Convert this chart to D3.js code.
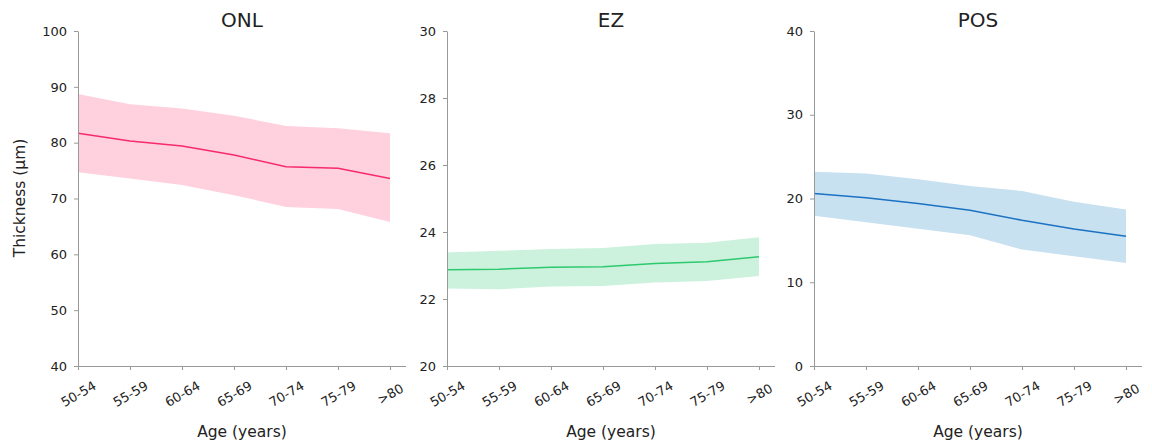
<!DOCTYPE html>
<html>
<head>
<meta charset="utf-8">
<script src="https://cdn.jsdelivr.net/npm/d3@7"></script>
<style>
  body { margin: 0; background: #fff; }
  svg text { font-family: "DejaVu Sans", sans-serif; fill: #222; }
</style>
</head>
<body>
<div id="chart"></div>
<script>
// age groups on the x axis
var ages = ["50-54", "55-59", "60-64", "65-69", "70-74", "75-79", ">80"];

// ONL thickness: mean and band
var onlMean  = [81.7, 80.3, 79.4, 77.8, 75.7, 75.4, 73.6];
var onlUpper = [88.7, 86.9, 86.1, 84.8, 83.0, 82.6, 81.7];
var onlLower = [74.7, 73.6, 72.4, 70.6, 68.5, 68.1, 65.8];

// EZ thickness
var ezMean  = [22.87, 22.89, 22.95, 22.96, 23.06, 23.11, 23.26];
var ezUpper = [23.39, 23.44, 23.49, 23.52, 23.64, 23.68, 23.84];
var ezLower = [22.31, 22.29, 22.37, 22.39, 22.49, 22.54, 22.69];

// POS thickness
var posMean  = [20.6, 20.1, 19.4, 18.6, 17.4, 16.35, 15.5];
var posUpper = [23.2, 23.0, 22.3, 21.5, 20.9, 19.6, 18.7];
var posLower = [17.95, 17.15, 16.4, 15.6, 13.9, 13.1, 12.3];

var onlTicks = [40, 50, 60, 70, 80, 90, 100];
var ezTicks  = [20, 22, 24, 26, 28, 30];
var posTicks = [0, 10, 20, 30, 40];

var W = 1152, H = 443;
var plotTop = 31, plotBottom = 366;

var svg = d3.select("#chart").append("svg")
    .attr("width", W)
    .attr("height", H);

var drawPanel = function(p) {
    var g = svg.append("g");
    var x = d3.scalePoint().domain(ages).range([p.x0, p.x0 + 312]);
    var y = d3.scaleLinear().domain(p.domain).range([plotBottom, plotTop]);

    var rows = ages.map(function(a, i) {
        return {age: a, m: p.mean[i], lo: p.lower[i], hi: p.upper[i]};
    });

    g.append("path").datum(rows)
        .attr("fill", p.fill)
        .attr("d", d3.area().x(d => x(d.age)).y0(d => y(d.lo)).y1(d => y(d.hi)));

    g.append("path").datum(rows)
        .attr("fill", "none")
        .attr("stroke", p.line)
        .attr("stroke-width", 1.5)
        .attr("d", d3.line().x(d => x(d.age)).y(d => y(d.m)));

    // y axis
    var ya = g.append("g").attr("transform", "translate(" + p.x0 + ",0)")
        .call(d3.axisLeft(y).tickValues(p.ticks).tickSize(4).tickPadding(7).tickSizeOuter(0));
    // x axis
    var xa = g.append("g").attr("transform", "translate(0," + plotBottom + ")")
        .call(d3.axisBottom(x).tickSize(4).tickSizeOuter(0));

    [ya, xa].forEach(function(a) {
        a.select(".domain").attr("stroke", "#999");
        a.selectAll(".tick line").attr("stroke", "#999");
        a.selectAll(".tick text").style("font-size", "13px").attr("fill", "#222");
    });
    // extend x axis line past the last category
    xa.select(".domain").attr("d", "M" + p.x0 + ",0.5H" + (p.x0 + 328));

    xa.selectAll(".tick text")
        .attr("y", 0).attr("dy", null)
        .attr("text-anchor", "middle")
        .attr("dominant-baseline", "central")
        .attr("transform", "translate(0,28) rotate(-30)");

    g.append("text")
        .attr("x", p.x0 + 164).attr("y", 27)
        .attr("text-anchor", "middle")
        .style("font-size", "20px")
        .text(p.title);

    g.append("text")
        .attr("x", p.x0 + 164).attr("y", 437)
        .attr("text-anchor", "middle")
        .style("font-size", "15.5px")
        .text("Age (years)");
};

drawPanel({title: "ONL", x0: 78, domain: [40, 100], ticks: onlTicks,
           mean: onlMean, upper: onlUpper, lower: onlLower,
           line: "#f72a6b", fill: "#ffd1de"});
drawPanel({title: "EZ", x0: 447, domain: [20, 30], ticks: ezTicks,
           mean: ezMean, upper: ezUpper, lower: ezLower,
           line: "#2cc96e", fill: "#ccf2de"});
drawPanel({title: "POS", x0: 814, domain: [0, 40], ticks: posTicks,
           mean: posMean, upper: posUpper, lower: posLower,
           line: "#1b72c2", fill: "#c8e1f1"});

svg.append("text")
    .attr("transform", "translate(25,198) rotate(-90)")
    .attr("text-anchor", "middle")
    .style("font-size", "15.5px")
    .text("Thickness (μm)");
</script>
</body>
</html>
